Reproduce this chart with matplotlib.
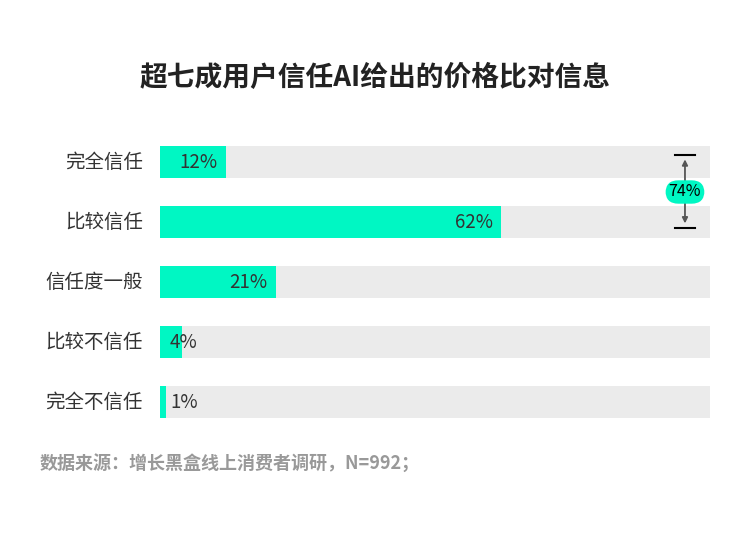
import matplotlib
matplotlib.use("Agg")
import matplotlib.pyplot as plt

plt.rcParams['font.family'] = ['Noto Sans CJK SC', 'DejaVu Sans']

categories = ["完全信任", "比较信任", "信任度一般", "比较不信任", "完全不信任"]
values = [12, 62, 21, 4, 1]
total_label = "74%"
title = "超七成用户信任AI给出的价格比对信息"
source = "数据来源：增长黑盒线上消费者调研，N=992；"

GREEN = "#00F7C3"
GRAY = "#EBEBEB"
TEXT = "#333333"

W, H = 750, 533
fig = plt.figure(figsize=(W / 100, H / 100), dpi=100)
ax = fig.add_axes([160 / W, 1 - 432 / H, 550 / W, 300 / H])
ax.set_xlim(0, 100)
ax.set_ylim(len(categories) - 0.5, -0.5)
ax.axis("off")

bh = 32 / 60
ys = list(range(len(categories)))
ax.barh(ys, [100] * len(ys), height=bh, color=GRAY, zorder=1)
ax.barh(ys, values, height=bh, color=GREEN, zorder=2)

for y, v, c in zip(ys, values, categories):
    if v >= 10:
        ax.text(v - 1.5, y, f"{v}%", ha="right", va="center", fontsize=13.5,
                color=TEXT, fontweight="light", zorder=3)
    else:
        ax.text(1.8, y, f"{v}%", ha="left", va="center", fontsize=13.5,
                color=TEXT, fontweight="light", zorder=3)
    ax.text(-3.1, y, c, ha="right", va="center", fontsize=14, color=TEXT,
            clip_on=False)

# bracket annotation
bx = 95.45
y_top, y_bot = -0.12, 1.1
cap = 1.8
ax.plot([bx - cap, bx + cap], [y_top, y_top], color="black", lw=1.5, zorder=4)
ax.plot([bx - cap, bx + cap], [y_bot, y_bot], color="black", lw=1.5, zorder=4)
ax.annotate("", xy=(bx, y_top + 0.03), xytext=(bx, 0.5),
            arrowprops=dict(arrowstyle="-|>", color="#555555", lw=1.3,
                            mutation_scale=8), zorder=4)
ax.annotate("", xy=(bx, y_bot - 0.03), xytext=(bx, 0.5),
            arrowprops=dict(arrowstyle="-|>", color="#555555", lw=1.3,
                            mutation_scale=8), zorder=4)
ax.text(bx, 0.5, total_label, ha="center", va="center", fontsize=11.5,
        color="black", fontweight="medium", zorder=5,
        bbox=dict(boxstyle="round,pad=0.2,rounding_size=0.8", fc=GREEN,
                  ec="none"))

fig.text(375 / W, 1 - 78 / H, title, ha="center", va="center", fontsize=20,
         fontweight="bold", color="#222222")
fig.text(40 / W, 1 - 463 / H, source, ha="left", va="center", fontsize=13,
         fontweight="bold", color="#999999")

fig.savefig("out.png", dpi=100)
